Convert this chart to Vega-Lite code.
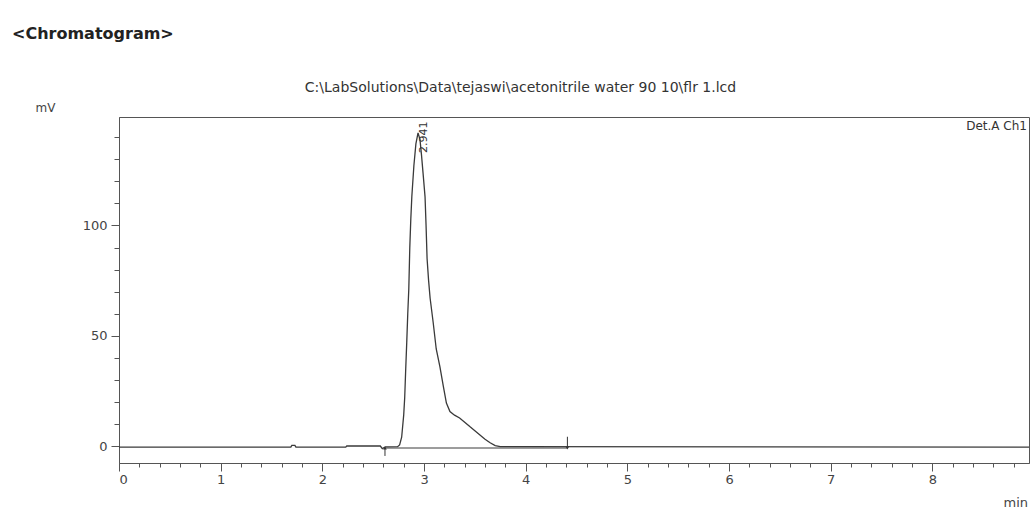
{
  "$schema": "https://vega.github.io/schema/vega-lite/v6.json",
  "autosize": {"type": "none"},
  "padding": {"left": 119, "top": 117, "right": 3, "bottom": 47},
  "width": 910,
  "height": 346,
  "background": "white",
  "title": {
    "text": "<Chromatogram>",
    "anchor": "start",
    "frame": "group",
    "dx": -107,
    "dy": -34,
    "font": "DejaVu Sans",
    "fontSize": 16,
    "fontWeight": "bold",
    "color": "#222"
  },
  "datasets": {
    "trace": [
      {"t": 0, "mV": -0.5}, {"t": 1.69, "mV": -0.5}, {"t": 1.70, "mV": 0.3}, {"t": 1.73, "mV": 0.3},
      {"t": 1.74, "mV": -0.5}, {"t": 2.23, "mV": -0.5}, {"t": 2.24, "mV": 0.0}, {"t": 2.57, "mV": 0.0},
      {"t": 2.59, "mV": -1.2}, {"t": 2.62, "mV": -0.4}, {"t": 2.74, "mV": -0.3}, {"t": 2.76, "mV": 0.5},
      {"t": 2.78, "mV": 4}, {"t": 2.80, "mV": 14}, {"t": 2.81, "mV": 22}, {"t": 2.82, "mV": 35},
      {"t": 2.83, "mV": 47}, {"t": 2.84, "mV": 60}, {"t": 2.85, "mV": 71}, {"t": 2.86, "mV": 90},
      {"t": 2.87, "mV": 103}, {"t": 2.88, "mV": 113}, {"t": 2.90, "mV": 127}, {"t": 2.92, "mV": 137},
      {"t": 2.941, "mV": 142}, {"t": 2.96, "mV": 139}, {"t": 2.975, "mV": 132}, {"t": 2.99, "mV": 124},
      {"t": 3.01, "mV": 113}, {"t": 3.02, "mV": 100}, {"t": 3.03, "mV": 85}, {"t": 3.045, "mV": 75},
      {"t": 3.06, "mV": 67}, {"t": 3.09, "mV": 56}, {"t": 3.12, "mV": 44}, {"t": 3.156, "mV": 36},
      {"t": 3.19, "mV": 27}, {"t": 3.22, "mV": 19.5}, {"t": 3.255, "mV": 15.6}, {"t": 3.30, "mV": 14},
      {"t": 3.35, "mV": 12.7}, {"t": 3.40, "mV": 10.8}, {"t": 3.45, "mV": 8.8}, {"t": 3.50, "mV": 6.9},
      {"t": 3.55, "mV": 5}, {"t": 3.60, "mV": 3.1}, {"t": 3.65, "mV": 1.5}, {"t": 3.70, "mV": 0.2},
      {"t": 3.75, "mV": -0.3}, {"t": 8.95, "mV": -0.5}
    ],
    "baseline": [
      {"t": 2.616, "mV": -0.9}, {"t": 4.41, "mV": -0.9}
    ],
    "peak": [
      {"t": 2.941, "mV": 142, "label": "2.941"}
    ],
    "markers": [
      {"t": 2.616, "from": -4.5, "to": -0.9, "tip": -0.9, "dir": "up"},
      {"t": 4.41, "from": 4.2, "to": -0.9, "tip": -0.9, "dir": "down"}
    ],
    "det": [
      {"t": 8.95, "mV": 149.2, "label": "Det.A Ch1"}
    ]
  },
  "layer": [
    {
      "data": {"name": "trace"},
      "mark": {"type": "line", "color": "#3a3a3a", "strokeWidth": 1.3, "interpolate": "linear"},
      "encoding": {
        "x": {
          "field": "t", "type": "quantitative",
          "scale": {"domain": [0, 8.95], "nice": false, "zero": false},
          "axis": {
            "orient": "bottom", "values": [0, 1, 2, 3, 4, 5, 6, 7, 8], "format": "d",
            "grid": false, "tickSize": 8, "labelPadding": 2, "labelFontSize": 13,
            "labelFont": "DejaVu Sans", "labelColor": "#444", "domainColor": "#555", "tickColor": "#555",
            "title": "min", "titleX": 884, "titleY": 39, "titleAlign": "left", "titleBaseline": "middle",
            "titleFont": "DejaVu Sans", "titleFontSize": 13, "titleFontWeight": "normal", "titleColor": "#444"
          }
        },
        "y": {
          "field": "mV", "type": "quantitative",
          "scale": {"domain": [-7.7, 149.2], "nice": false, "zero": false},
          "axis": {
            "orient": "left", "values": [0, 50, 100], "grid": false, "tickSize": 8, "labelPadding": 4,
            "labelFontSize": 13, "labelFont": "DejaVu Sans", "labelColor": "#444",
            "domainColor": "#555", "tickColor": "#555",
            "title": "mV", "titleAngle": 0, "titleX": -84, "titleY": -10, "titleAlign": "left",
            "titleBaseline": "middle", "titleFont": "DejaVu Sans", "titleFontSize": 12,
            "titleFontWeight": "normal", "titleColor": "#444"
          }
        }
      }
    },
    {
      "data": {"name": "baseline"},
      "mark": {"type": "line", "color": "#3a3a3a", "strokeWidth": 1},
      "encoding": {
        "x": {
          "field": "t", "type": "quantitative",
          "axis": {
            "orient": "bottom",
            "values": [0.2, 0.4, 0.6, 0.8, 1.2, 1.4, 1.6, 1.8, 2.2, 2.4, 2.6, 2.8, 3.2, 3.4, 3.6, 3.8, 4.2, 4.4, 4.6, 4.8, 5.2, 5.4, 5.6, 5.8, 6.2, 6.4, 6.6, 6.8, 7.2, 7.4, 7.6, 7.8, 8.2, 8.4, 8.6, 8.8],
            "labels": false, "domain": false, "grid": false, "tickSize": 4, "tickColor": "#555", "title": null
          }
        },
        "y": {
          "field": "mV", "type": "quantitative",
          "axis": {
            "orient": "left", "values": [10, 20, 30, 40, 60, 70, 80, 90, 110, 120, 130, 140],
            "labels": false, "domain": false, "grid": false, "tickSize": 5, "tickColor": "#555", "title": null
          }
        }
      }
    },
    {
      "data": {"name": "peak"},
      "mark": {"type": "text", "angle": 270, "align": "left", "baseline": "middle", "dx": -20, "dy": 6,
               "font": "DejaVu Sans", "fontSize": 11, "color": "#333"},
      "encoding": {
        "x": {
          "field": "t", "type": "quantitative",
          "axis": {
            "orient": "top", "domain": false, "ticks": false, "labels": false, "grid": false,
            "title": "C:\\LabSolutions\\Data\\tejaswi\\acetonitrile water 90 10\\flr 1.lcd",
            "titleX": 401, "titleY": -30, "titleAlign": "center", "titleBaseline": "middle",
            "titleFont": "DejaVu Sans", "titleFontSize": 14, "titleFontWeight": "normal", "titleColor": "#333"
          }
        },
        "y": {"field": "mV", "type": "quantitative", "axis": null},
        "text": {"field": "label"}
      }
    },
    {
      "data": {"name": "markers"},
      "mark": {"type": "rule", "color": "#333", "strokeWidth": 1},
      "encoding": {
        "x": {"field": "t", "type": "quantitative", "axis": null},
        "y": {"field": "from", "type": "quantitative", "axis": null},
        "y2": {"field": "to"}
      }
    },
    {
      "data": {"name": "markers"},
      "mark": {"type": "point", "filled": true, "color": "#333", "size": 14, "opacity": 1},
      "encoding": {
        "x": {"field": "t", "type": "quantitative", "axis": null},
        "y": {"field": "tip", "type": "quantitative", "axis": null},
        "shape": {"field": "dir", "type": "nominal", "scale": {"domain": ["up", "down"], "range": ["triangle-up", "triangle-down"]}, "legend": null}
      }
    },
    {
      "data": {"name": "det"},
      "mark": {"type": "text", "align": "right", "baseline": "top", "dx": -2, "dy": 4,
               "font": "DejaVu Sans", "fontSize": 12, "color": "#333"},
      "encoding": {
        "x": {"field": "t", "type": "quantitative", "axis": null},
        "y": {"field": "mV", "type": "quantitative", "axis": null},
        "text": {"field": "label"}
      }
    }
  ],
  "resolve": {"axis": {"x": "independent", "y": "independent"}},
  "config": {
    "font": "DejaVu Sans",
    "view": {"stroke": "#555", "strokeWidth": 1},
    "axis": {"domainWidth": 1, "tickWidth": 1}
  }
}
